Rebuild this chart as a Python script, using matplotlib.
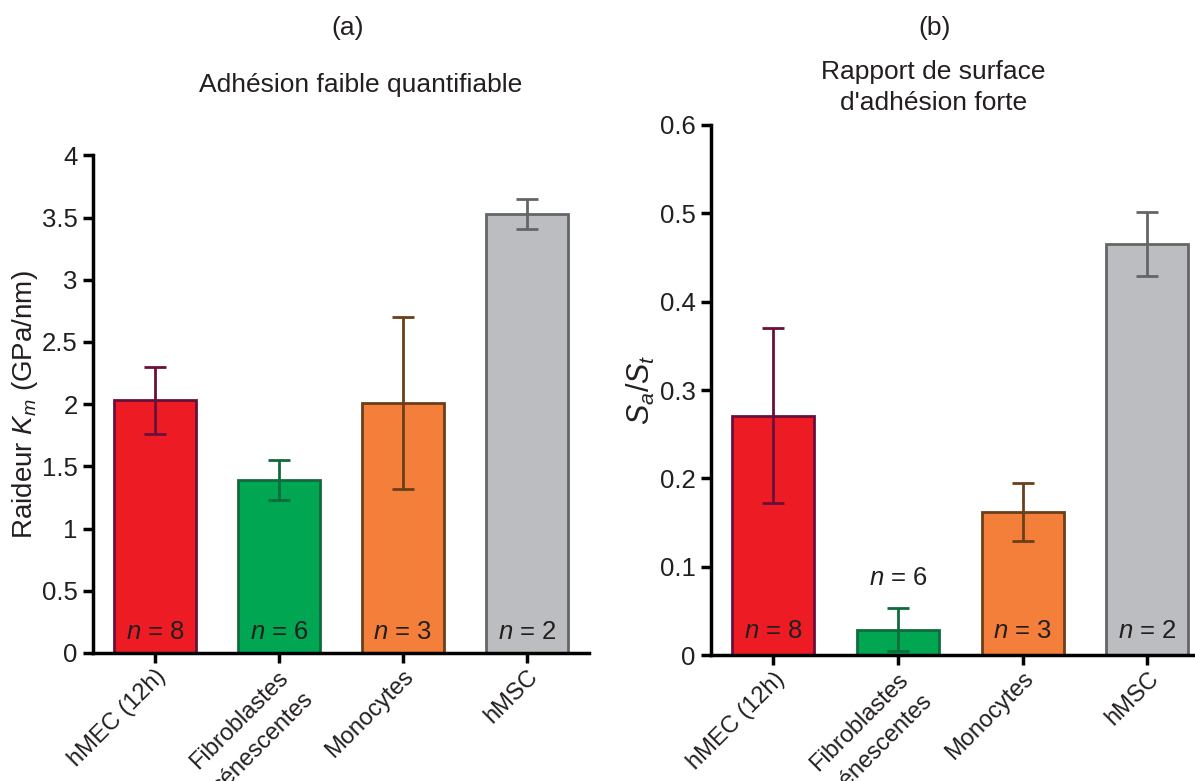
import matplotlib
matplotlib.use('Agg')
from matplotlib import pyplot as plt

plt.rcParams['font.family'] = ['Liberation Sans', 'DejaVu Sans']
plt.rcParams['mathtext.fontset'] = 'custom'
plt.rcParams['mathtext.rm'] = 'Liberation Sans'
plt.rcParams['mathtext.it'] = 'Liberation Sans:italic'

cells = ['hMEC (12h)', 'Fibroblastes\nsénescentes', 'Monocytes', 'hMSC']
n_counts = [8, 6, 3, 2]

stiffness = [2.03, 1.39, 2.01, 3.53]
stiffness_err = [0.27, 0.16, 0.69, 0.12]

ratio = [0.271, 0.029, 0.162, 0.465]
ratio_err = [0.099, 0.024, 0.033, 0.036]

fills = ['#ED1C24', '#00A651', '#F37F3B', '#BCBDC0']
edges = ['#6B0F3A', '#0E6B3B', '#6B3F1A', '#646566']
text_col = '#231F20'

fig = plt.figure(figsize=(11.95, 7.81), dpi=100)
ax1 = fig.add_axes([0.0778, 0.164, 0.415, 0.637])
ax2 = fig.add_axes([0.595, 0.161, 0.412, 0.679])


def draw_panel(ax, vals, errs, ymax, yticks, ylabels):
    x = list(range(len(vals)))
    for i in x:
        ax.bar(i, vals[i], width=0.66, color=fills[i], edgecolor=edges[i],
               linewidth=2, zorder=2)
        ax.errorbar(i, vals[i], yerr=errs[i], color=edges[i], capsize=8,
                    capthick=2, elinewidth=2, zorder=3)
    ax.set_xlim(-0.5, 3.5)
    ax.set_ylim(0, ymax)
    ax.set_yticks(yticks)
    ax.set_yticklabels(ylabels)
    ax.set_xticks(x)
    labels = ax.set_xticklabels(cells, rotation=45, ha='right',
                                rotation_mode='anchor', multialignment='center',
                                fontsize=17)
    for lab in labels:
        lab.set_linespacing(1.6)
    for side in ['top', 'right']:
        ax.spines[side].set_visible(False)
    for side in ['left', 'bottom']:
        ax.spines[side].set_linewidth(2.5)
    ax.tick_params(axis='both', direction='out', length=7, width=2.5,
                   labelcolor=text_col, pad=4)
    ax.tick_params(axis='y', labelsize=18.5)
    ax.tick_params(axis='x', pad=2)


draw_panel(ax1, stiffness, stiffness_err, 4,
           [0, 0.5, 1, 1.5, 2, 2.5, 3, 3.5, 4],
           ['0', '0.5', '1', '1.5', '2', '2.5', '3', '3.5', '4'])
draw_panel(ax2, ratio, ratio_err, 0.6,
           [0, 0.1, 0.2, 0.3, 0.4, 0.5, 0.6],
           ['0', '0.1', '0.2', '0.3', '0.4', '0.5', '0.6'])
ax2.set_xlim(-0.5, 3.45)

for i in range(4):
    ax1.text(i, 0.17, '$n$ = %d' % n_counts[i], ha='center', va='center',
             fontsize=18.5, color=text_col)
for i in range(4):
    if i == 1:
        ypos = ratio[i] + ratio_err[i] + 0.034
    else:
        ypos = 0.027
    ax2.text(i, ypos, '$n$ = %d' % n_counts[i], ha='center', va='center',
             fontsize=18.5, color=text_col)

ax1.set_ylabel('Raideur $K_m$ (GPa/nm)', fontsize=20, color=text_col, labelpad=1)
ax2.set_ylabel('$S_a/S_t$', fontsize=22, color=text_col, labelpad=2)

fig.text(0.291, 0.964, '(a)', ha='center', va='center', fontsize=19, color=text_col)
fig.text(0.302, 0.891, 'Adhésion faible quantifiable', ha='center', va='center',
         fontsize=19, color=text_col)
fig.text(0.782, 0.964, '(b)', ha='center', va='center', fontsize=19, color=text_col)
fig.text(0.781, 0.888, 'Rapport de surface\nd\'adhésion forte', ha='center',
         va='center', fontsize=19, color=text_col, linespacing=1.4)

fig.savefig('out.png', dpi=100)
